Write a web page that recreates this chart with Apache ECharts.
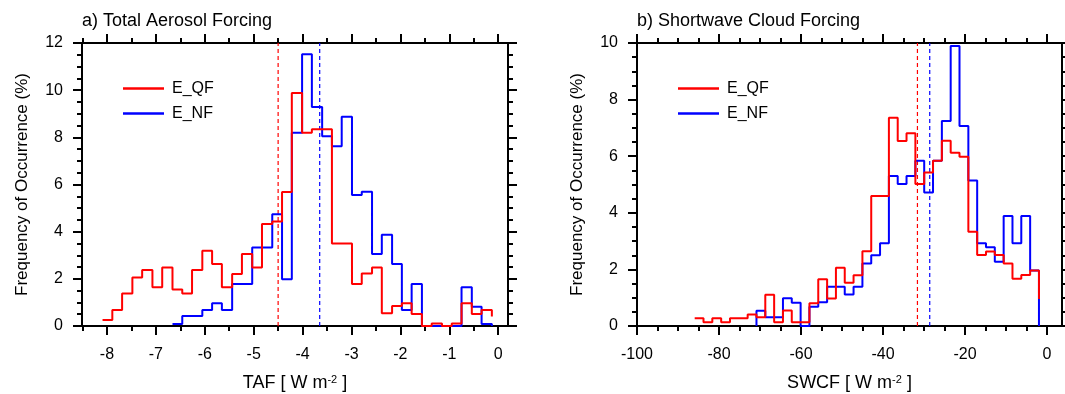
<!DOCTYPE html>
<html>
<head>
<meta charset="utf-8">
<script src="https://cdn.jsdelivr.net/npm/echarts@6/dist/echarts.min.js"></script>
<style>
  html, body { margin: 0; padding: 0; background: #fff; }
  #chart { width: 1065px; height: 394px; }
</style>
</head>
<body>
<div id="chart"></div>
<script>
// a) Total Aerosol Forcing -- bin edges (W m-2) and frequency (%) per bin
var tafEdges = [-8.09, -7.89, -7.69, -7.48, -7.28, -7.07, -6.87, -6.66, -6.46, -6.26,
  -6.05, -5.85, -5.65, -5.44, -5.24, -5.03, -4.83, -4.62, -4.42, -4.22,
  -4.01, -3.81, -3.60, -3.40, -3.20, -2.99, -2.79, -2.58, -2.38, -2.17,
  -1.97, -1.77, -1.56, -1.36, -1.15, -0.95, -0.75, -0.54, -0.34, -0.13];
var tafQF = [0.25, 0.68, 1.38, 2.06, 2.37, 1.64, 2.48, 1.55, 1.38, 2.37,
  3.19, 2.63, 1.64, 2.2, 3.05, 2.48, 4.32, 4.43, 5.68, 9.88,
  8.19, 8.34, 8.34, 3.5, 3.5, 1.78, 2.23, 2.48, 0.54, 0.85,
  0.96, 0.51, 0, 0.11, 0, 0.11, 0.96, 0.51, 0.68];
// E_NF starts at bin 7
var tafNF = [0.08, 0.42, 0.42, 0.68, 0.96, 0.68, 1.78, 1.78, 3.33, 3.33,
  4.74, 1.98, 8.19, 11.52, 9.29, 8.05, 7.62, 8.87, 5.56, 5.69,
  3.05, 3.87, 2.63, 0.68, 1.78, 0, 0, 0, 0, 1.64,
  0.82, 0.08];
var tafNFFirst = 7;
var tafQFEnd = 0.4;
var tafNFEnd = 0;
var tafMeanQF = -4.5;
var tafMeanNF = -3.65;

// b) Shortwave Cloud Forcing
var swcfEdges = [-85.93, -83.78, -81.63, -79.47, -77.32, -75.17, -73.01, -70.86, -68.71, -66.55,
  -64.40, -62.25, -60.09, -57.94, -55.79, -53.63, -51.48, -49.33, -47.18, -45.02,
  -42.87, -40.72, -38.56, -36.41, -34.26, -32.10, -29.95, -27.80, -25.64, -23.49,
  -21.34, -19.18, -17.03, -14.88, -12.73, -10.57, -8.42, -6.27, -4.11, -1.96];
var swcfQF = [0.27, 0.13, 0.27, 0.13, 0.27, 0.27, 0.41, 0.31, 1.1, 0.13,
  0.55, 0.13, 0.13, 0.8, 1.65, 0.97, 2.06, 1.53, 1.79, 2.64,
  4.59, 4.59, 7.36, 6.54, 6.81, 5.02, 5.42, 5.84, 6.55, 6.12,
  5.98, 3.33, 2.51, 2.63, 2.51, 2.21, 1.67, 1.8, 1.96];
var swcfNF = [0.54, 0.31, 0.31, 0.98, 0.82, 0, 0.68, 0.84, 1.39, 1.39,
  1.11, 1.39, 2.21, 2.5, 2.92, 5.3, 5.02, 5.3, 5.84, 4.72,
  5.84, 7.24, 9.89, 7.07, 5.14, 2.92, 2.78, 2.27, 3.89, 2.92,
  3.89, 1.96];
var swcfNFFirst = 7;
var swcfQFEnd = 0.95;
var swcfNFEnd = 0;
var swcfMeanQF = -31.6;
var swcfMeanNF = -28.6;

// tick positions
var tafTicks = [-8, -7, -6, -5, -4, -3, -2, -1, 0];
var tafMinor = [-8.5, -7.5, -6.5, -5.5, -4.5, -3.5, -2.5, -1.5, -0.5];
var swcfTicks = [-100, -80, -60, -40, -20, 0];
var swcfMinor = [-95, -90, -85, -75, -70, -65, -55, -50, -45, -35, -30, -25, -15, -10, -5];

var FONT = 'Liberation Sans, Arial, Helvetica, sans-serif';
var chart = echarts.init(document.getElementById('chart'));

function stepData(edges, values, first, endValue, fromZero) {
  var pts = [];
  if (fromZero) pts.push([edges[first], 0]);
  values.forEach(function(v, i) {
    pts.push([edges[first + i], v]);
  });
  pts.push([edges[first + values.length], endValue]);
  return pts;
}

var line = { show: true, onZero: false, lineStyle: { color: '#000', width: 2 } };
var noLine = { show: false, onZero: false };

function xAxes(grid, min, max, major, minor, name) {
  function ax(pos, ticks, len, main, withLine) {
    var a = {
      type: 'value', gridIndex: grid, min: min, max: max, position: pos,
      axisLine: withLine ? line : noLine,
      axisTick: { show: true, customValues: ticks, length: len, lineStyle: { color: '#000', width: 2 } },
      axisLabel: { show: false },
      splitLine: { show: false }
    };
    if (main) {
      a.axisLabel = { show: true, customValues: ticks, margin: 21, fontSize: 16, color: '#000', fontFamily: FONT };
      a.name = name;
      a.nameLocation = 'middle';
      a.nameGap = 48;
      a.nameTextStyle = {
        fontSize: 18, color: '#000', fontFamily: FONT,
        rich: { s: { fontSize: 11, lineHeight: 12, verticalAlign: 'top', color: '#000', fontFamily: FONT } }
      };
    }
    return a;
  }
  return [
    ax('bottom', major, 9, true, true),
    ax('bottom', minor, 5, false, false),
    ax('top', major, 9, false, true),
    ax('top', minor, 5, false, false)
  ];
}

function yAxes(grid, max) {
  function ax(pos, main) {
    var a = {
      type: 'value', gridIndex: grid, min: 0, max: max, interval: 2, position: pos,
      axisLine: line,
      axisTick: { show: true, length: 9, lineStyle: { color: '#000', width: 2 } },
      minorTick: { show: true, splitNumber: 4, length: 5, lineStyle: { color: '#000', width: 2 } },
      axisLabel: { show: false },
      splitLine: { show: false }
    };
    if (main) {
      a.axisLabel = { show: true, margin: 19, fontSize: 16, color: '#000', fontFamily: FONT };
      a.name = 'Frequency of Occurrence (%)';
      a.nameLocation = 'middle';
      a.nameGap = 51;
      a.nameTextStyle = { fontSize: 17, color: '#000', fontFamily: FONT };
    }
    return a;
  }
  return [ax('left', true), ax('right', false)];
}

function histSeries(name, color, xi, yi, data) {
  return {
    name: name, type: 'line', step: 'end', xAxisIndex: xi, yAxisIndex: yi,
    data: data, symbol: 'none', color: color,
    itemStyle: { color: color },
    lineStyle: { color: color, width: 2 },
    animation: false
  };
}

// dashed vertical line at the mean of a distribution
function meanSeries(name, color, xi, yi, mean, top) {
  return {
    name: name, type: 'line', xAxisIndex: xi, yAxisIndex: yi,
    data: [[mean, 0], [mean, top]], symbol: 'none', color: color,
    itemStyle: { color: color },
    lineStyle: { color: color, width: 1.2, type: [4, 3] },
    silent: true, animation: false, z: 1
  };
}

function legendAt(left) {
  return {
    left: left, top: 75, orient: 'vertical', icon: 'rect', itemWidth: 41, itemHeight: 2.5, itemGap: 8,
    data: ['E_QF', 'E_NF'],
    textStyle: { fontSize: 16, lineHeight: 17, color: '#000', fontFamily: FONT, padding: [0, 0, 0, 3] }
  };
}

chart.setOption({
  backgroundColor: '#fff',
  title: [
    { text: 'a) Total Aerosol Forcing', left: 77, top: 7, textStyle: { fontSize: 18, fontWeight: 'normal', color: '#000', fontFamily: FONT } },
    { text: 'b) Shortwave Cloud Forcing', left: 632, top: 7, textStyle: { fontSize: 18, fontWeight: 'normal', color: '#000', fontFamily: FONT } }
  ],
  legend: [legendAt(118), legendAt(673)],
  grid: [
    { left: 82, top: 43, width: 426, height: 283, outerBoundsMode: 'none' },
    { left: 637, top: 43, width: 425, height: 283, outerBoundsMode: 'none' }
  ],
  xAxis: xAxes(0, -8.51, 0.2, tafTicks, tafMinor, 'TAF [ W m{s|-2} ]')
    .concat(xAxes(1, -100, 3.66, swcfTicks, swcfMinor, 'SWCF [ W m{s|-2} ]')),
  yAxis: yAxes(0, 12).concat(yAxes(1, 10)),
  series: [
    meanSeries('QF mean a', '#ff0000', 0, 0, tafMeanQF, 12),
    meanSeries('NF mean a', '#0000ff', 0, 0, tafMeanNF, 12),
    meanSeries('QF mean b', '#ff0000', 4, 2, swcfMeanQF, 10),
    meanSeries('NF mean b', '#0000ff', 4, 2, swcfMeanNF, 10),
    histSeries('E_NF', '#0000ff', 0, 0, stepData(tafEdges, tafNF, tafNFFirst, tafNFEnd, false)),
    histSeries('E_QF', '#ff0000', 0, 0, stepData(tafEdges, tafQF, 0, tafQFEnd, false)),
    histSeries('E_NF', '#0000ff', 4, 2, stepData(swcfEdges, swcfNF, swcfNFFirst, swcfNFEnd, true)),
    histSeries('E_QF', '#ff0000', 4, 2, stepData(swcfEdges, swcfQF, 0, swcfQFEnd, false))
  ]
});
</script>
</body>
</html>
